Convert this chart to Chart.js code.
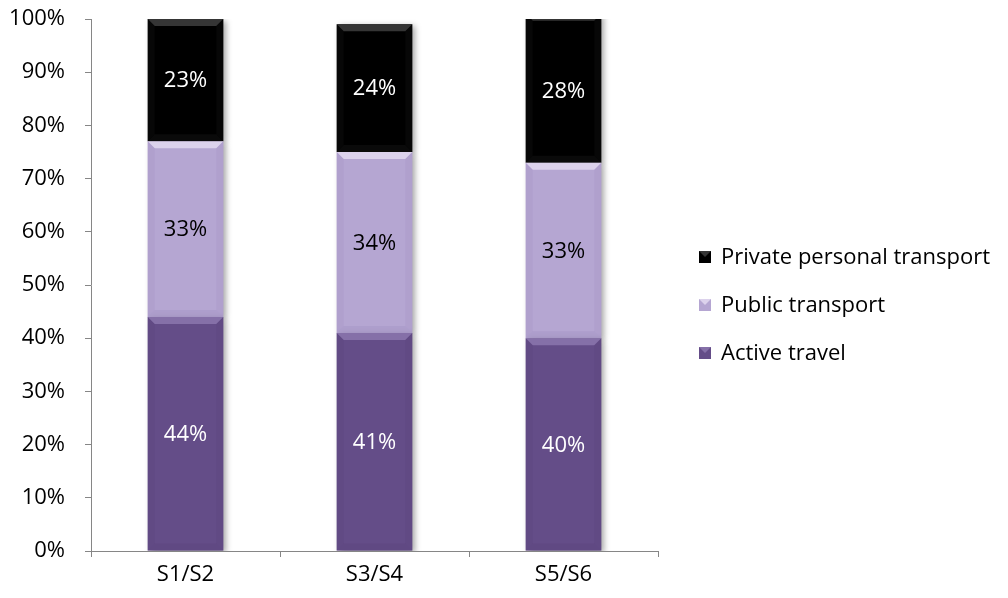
<!DOCTYPE html>
<html>
<head>
<meta charset="utf-8">
<title>Travel mode by year group</title>
<script src="https://cdn.jsdelivr.net/npm/chart.js@4.4.1/dist/chart.umd.min.js"></script>
<style>
  html, body { margin: 0; padding: 0; background: #fff; }
  #wrap { width: 1008px; height: 598px; }
</style>
</head>
<body>
<div id="wrap"><canvas id="chart" width="1008" height="598"></canvas></div>
<script>
const categories = ["S1/S2", "S3/S4", "S5/S6"];
const activeTravel = [44, 41, 40];
const publicTransport = [33, 34, 33];
const privateTransport = [23, 24, 28];
const yTicks = [0, 10, 20, 30, 40, 50, 60, 70, 80, 90, 100];

const FONT = "'Open Sans', sans-serif";
const FONT_SIZE = 22;
const AXIS = "#868686";

// per-series look: fill, bevel highlight, bevel shade, label colour
const looks = [
  { fill: "#644d88", hi: "#8570a8", lo: "#5b467e", text: "#ffffff" },
  { fill: "#b5a6d2", hi: "#dcd2ec", lo: "#a696c6", text: "#000000" },
  { fill: "#000000", hi: "#353535", lo: "#141414", text: "#ffffff" }
];

function barBox(el) {
  const p = el.getProps(["x", "y", "width", "base"], true);
  const top = Math.min(p.y, p.base), bottom = Math.max(p.y, p.base);
  return { l: p.x - p.width / 2, r: p.x + p.width / 2, t: top, b: bottom, cx: p.x };
}

function clipArea(chart) {
  const a = chart.chartArea;
  const ctx = chart.ctx;
  ctx.beginPath();
  ctx.rect(a.left, a.top, a.right - a.left + 20, a.bottom - a.top);
  ctx.clip();
}

// soft drop shadow behind the stacks
const shadowPlugin = {
  id: "barShadow",
  beforeDatasetsDraw(chart) {
    const ctx = chart.ctx;
    ctx.save();
    clipArea(chart);
    ctx.shadowColor = "rgba(0,0,0,0.35)";
    ctx.shadowBlur = 6;
    ctx.shadowOffsetX = 3;
    ctx.shadowOffsetY = 2;
  },
  afterDatasetsDraw(chart) {
    chart.ctx.restore();
  }
};

// bevelled edges on each segment
const bevelPlugin = {
  id: "bevel",
  afterDatasetsDraw(chart) {
    const ctx = chart.ctx;
    ctx.save();
    clipArea(chart);
    chart.data.datasets.forEach((ds, di) => {
      const lk = looks[di];
      chart.getDatasetMeta(di).data.forEach(el => {
        const b = barBox(el);
        const h = b.b - b.t;
        if (h < 2) return;
        const e = Math.min(7, h / 3);
        // top band
        ctx.fillStyle = lk.hi;
        ctx.beginPath();
        ctx.moveTo(b.l, b.t);
        ctx.lineTo(b.r, b.t);
        ctx.lineTo(b.r - e, b.t + e);
        ctx.lineTo(b.l + e, b.t + e);
        ctx.closePath();
        ctx.fill();
        // bottom and side shading
        ctx.fillStyle = lk.lo;
        ctx.globalAlpha = 0.5;
        ctx.beginPath();
        ctx.moveTo(b.l, b.b);
        ctx.lineTo(b.r, b.b);
        ctx.lineTo(b.r - e, b.b - e);
        ctx.lineTo(b.l + e, b.b - e);
        ctx.closePath();
        ctx.fill();
        ctx.globalAlpha = 0.35;
        ctx.beginPath();
        ctx.moveTo(b.l, b.t);
        ctx.lineTo(b.l + e, b.t + e);
        ctx.lineTo(b.l + e, b.b - e);
        ctx.lineTo(b.l, b.b);
        ctx.closePath();
        ctx.fill();
        ctx.beginPath();
        ctx.moveTo(b.r, b.t);
        ctx.lineTo(b.r - e, b.t + e);
        ctx.lineTo(b.r - e, b.b - e);
        ctx.lineTo(b.r, b.b);
        ctx.closePath();
        ctx.fill();
        ctx.globalAlpha = 1;
      });
    });
    ctx.restore();
  }
};

// percentage labels in the middle of each visible segment
const labelPlugin = {
  id: "segLabels",
  afterDatasetsDraw(chart) {
    const ctx = chart.ctx;
    const top = chart.chartArea.top;
    ctx.save();
    ctx.font = FONT_SIZE + "px " + FONT;
    ctx.textAlign = "center";
    ctx.textBaseline = "middle";
    chart.data.datasets.forEach((ds, di) => {
      ctx.fillStyle = looks[di].text;
      chart.getDatasetMeta(di).data.forEach((el, i) => {
        const b = barBox(el);
        const t = Math.max(b.t, top);
        ctx.fillText(ds.data[i] + "%", b.cx, (t + b.b) / 2 + 1);
      });
    });
    ctx.restore();
  }
};

// legend on the right, last series first
const legendPlugin = {
  id: "sideLegend",
  afterDraw(chart) {
    const ctx = chart.ctx;
    const boxX = 699, textX = 721, y0 = 257, gap = 48, sz = 12;
    ctx.save();
    ctx.font = FONT_SIZE + "px " + FONT;
    ctx.textBaseline = "middle";
    ctx.textAlign = "left";
    const order = chart.data.datasets.map((d, i) => i).reverse();
    order.forEach((di, row) => {
      const y = y0 + row * gap;
      const lk = looks[di];
      ctx.fillStyle = lk.fill;
      ctx.fillRect(boxX, y - sz / 2, sz, sz);
      ctx.fillStyle = lk.hi;
      ctx.beginPath();
      ctx.moveTo(boxX, y - sz / 2);
      ctx.lineTo(boxX + sz, y - sz / 2);
      ctx.lineTo(boxX + sz / 2, y);
      ctx.closePath();
      ctx.fill();
      ctx.fillStyle = "#000";
      ctx.fillText(chart.data.datasets[di].label, textX, y + 1);
    });
    ctx.restore();
  }
};

new Chart(document.getElementById("chart"), {
  type: "bar",
  data: {
    labels: categories,
    datasets: [
      { label: "Active travel", data: activeTravel, backgroundColor: looks[0].fill },
      { label: "Public transport", data: publicTransport, backgroundColor: looks[1].fill },
      { label: "Private personal transport", data: privateTransport, backgroundColor: looks[2].fill }
    ]
  },
  options: {
    responsive: false,
    animation: false,
    devicePixelRatio: 1,
    layout: { padding: { top: 19, right: 350, bottom: 0, left: 0 } },
    datasets: { bar: { categoryPercentage: 0.4, barPercentage: 1, borderWidth: 0, clip: 0 } },
    plugins: {
      legend: { display: false },
      tooltip: { enabled: false }
    },
    scales: {
      x: {
        stacked: true,
        afterFit(scale) {
          scale.height = 47;
          scale.paddingLeft = 0;
          scale.paddingRight = 0;
        },
        grid: {
          display: true, drawOnChartArea: false, drawTicks: true,
          tickLength: 6, color: AXIS, offset: true
        },
        border: { color: AXIS, width: 1 },
        ticks: { color: "#000", font: { family: FONT, size: FONT_SIZE }, padding: 5 }
      },
      y: {
        stacked: true,
        min: 0,
        max: 100,
        afterFit(scale) {
          scale.width = 91;
          scale.paddingTop = 0;
          scale.paddingBottom = 0;
        },
        afterBuildTicks(scale) { scale.ticks = yTicks.map(v => ({ value: v })); },
        grid: {
          display: true, drawOnChartArea: false, drawTicks: true,
          tickLength: 6, color: AXIS
        },
        border: { color: AXIS, width: 1 },
        ticks: {
          color: "#000",
          font: { family: FONT, size: FONT_SIZE },
          padding: 20,
          callback: v => v + "%"
        }
      }
    }
  },
  plugins: [shadowPlugin, bevelPlugin, labelPlugin, legendPlugin]
});
</script>
</body>
</html>
